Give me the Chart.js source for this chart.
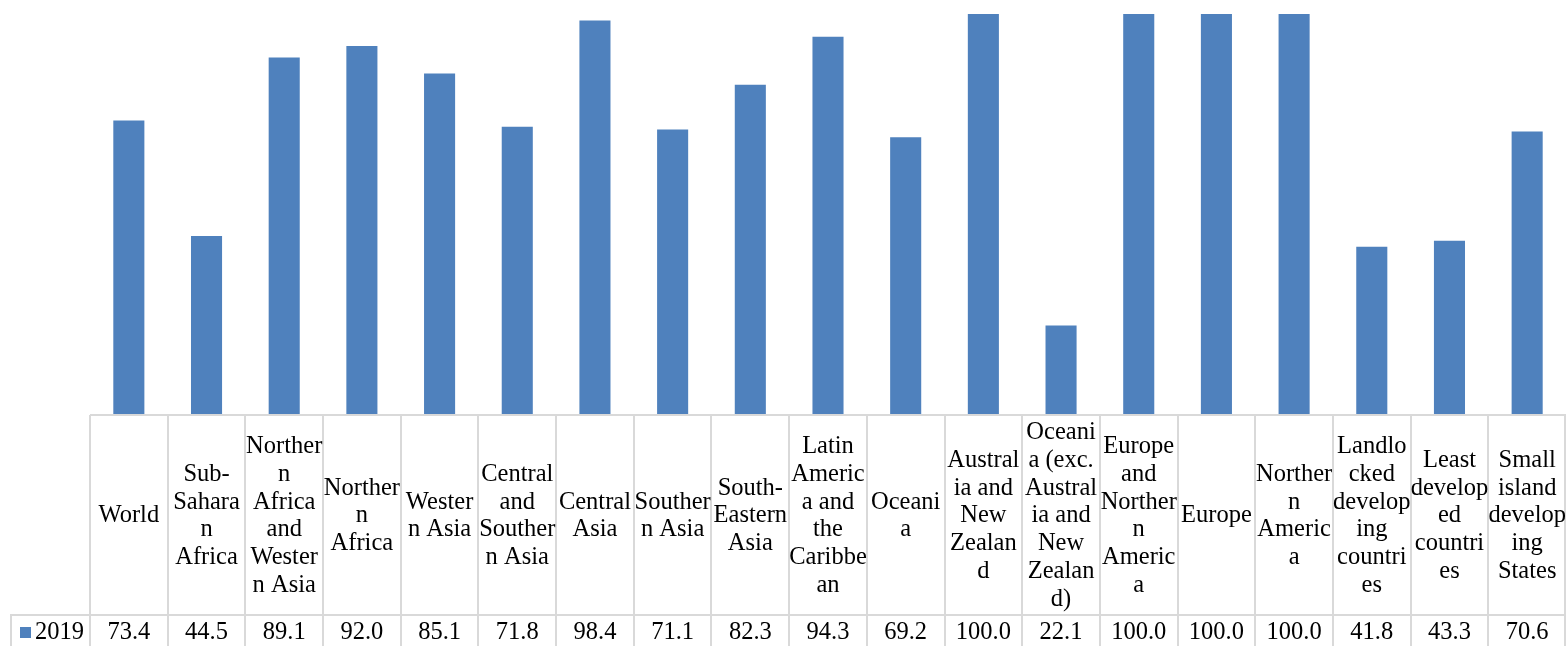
<!DOCTYPE html>
<html lang="en">
<head>
    <meta charset="UTF-8">
    <title>2019 by region</title>
    <style>
        html, body { margin: 0; padding: 0; background: #fff; }
        #wrap { width: 1566px; height: 646px; position: relative; }
    </style>
</head>
<body>
    <div id="wrap">
        <canvas id="myChart"></canvas>
    </div>

    <script src="https://cdn.jsdelivr.net/npm/chart.js"></script>
    <script>
        // categories, already wrapped the way the table cells break them
        const categories = [
            ['World'],
            ['Sub-', 'Sahara', 'n', 'Africa'],
            ['Norther', 'n', 'Africa', 'and', 'Wester', 'n Asia'],
            ['Norther', 'n', 'Africa'],
            ['Wester', 'n Asia'],
            ['Central', 'and', 'Souther', 'n Asia'],
            ['Central', 'Asia'],
            ['Souther', 'n Asia'],
            ['South-', 'Eastern', 'Asia'],
            ['Latin', 'Americ', 'a and', 'the', 'Caribbe', 'an'],
            ['Oceani', 'a'],
            ['Austral', 'ia and', 'New', 'Zealan', 'd'],
            ['Oceani', 'a (exc.', 'Austral', 'ia and', 'New', 'Zealan', 'd)'],
            ['Europe', 'and', 'Norther', 'n', 'Americ', 'a'],
            ['Europe'],
            ['Norther', 'n', 'Americ', 'a'],
            ['Landlo', 'cked', 'develop', 'ing', 'countri', 'es'],
            ['Least', 'develop', 'ed', 'countri', 'es'],
            ['Small', 'island', 'develop', 'ing', 'States']
        ];
        const seriesName = '2019';
        const values2019 = [73.4, 44.5, 89.1, 92.0, 85.1, 71.8, 98.4, 71.1, 82.3, 94.3,
                            69.2, 100.0, 22.1, 100.0, 100.0, 100.0, 41.8, 43.3, 70.6];

        const barColor = '#4f81bd';
        const gridColor = '#d9d9d9';
        const tableFont = '24.5px "Liberation Serif", "Times New Roman", serif';

        // draws the Excel-like data table under the plot
        const dataTable = {
            id: 'dataTable',
            afterDraw(chart) {
                const ctx = chart.ctx;
                const area = chart.chartArea;
                const xs = chart.scales.x;
                const n = categories.length;
                const colW = (area.right - area.left) / n;
                const headTop = area.bottom + 1;
                const rowTop = headTop + 200;
                const rowBottom = chart.height + 10;
                const lineH = 27.7;

                ctx.save();
                ctx.strokeStyle = gridColor;
                ctx.lineWidth = 2;
                ctx.beginPath();
                ctx.moveTo(area.left, headTop);
                ctx.lineTo(area.right, headTop);
                ctx.moveTo(10, rowTop);
                ctx.lineTo(area.right, rowTop);
                ctx.moveTo(11, rowTop);
                ctx.lineTo(11, rowBottom);
                for (let i = 0; i <= n; i++) {
                    let x = Math.round(area.left + i * colW);
                    if (i === n) x = area.right - 1;
                    ctx.moveTo(x, headTop);
                    ctx.lineTo(x, rowBottom);
                }
                ctx.stroke();

                ctx.fillStyle = '#000';
                ctx.font = tableFont;
                ctx.textAlign = 'center';
                ctx.textBaseline = 'middle';
                const mid = (headTop + rowTop) / 2;
                categories.forEach((lines, i) => {
                    const cx = xs.getPixelForValue(i);
                    const y0 = mid - (lines.length - 1) * lineH / 2 + 1;
                    lines.forEach((t, k) => ctx.fillText(t, cx, y0 + k * lineH));
                    ctx.fillText(values2019[i].toFixed(1), cx, rowTop + 18);
                });

                // legend key in the first cell of the value row
                ctx.fillStyle = barColor;
                ctx.fillRect(20, rowTop + 12, 11, 11);
                ctx.fillStyle = '#000';
                ctx.textAlign = 'left';
                ctx.fillText(seriesName, 35, rowTop + 18);
                ctx.restore();
            }
        };

        const config = {
            type: 'bar',
            data: {
                labels: categories,
                datasets: [{
                    label: seriesName,
                    data: values2019,
                    backgroundColor: barColor,
                    borderWidth: 0,
                    barPercentage: 0.4,
                    categoryPercentage: 1.0
                }]
            },
            options: {
                responsive: false,
                animation: false,
                layout: { padding: { left: 90, right: 0, top: 14, bottom: 232 } },
                plugins: {
                    legend: { display: false },
                    tooltip: { enabled: false }
                },
                scales: {
                    x: { display: false },
                    y: { display: false, min: 0, max: 100 }
                }
            },
            plugins: [dataTable]
        };

        const canvas = document.getElementById('myChart');
        canvas.width = 1566;
        canvas.height = 646;
        const myChart = new Chart(canvas, config);
    </script>
</body>
</html>
